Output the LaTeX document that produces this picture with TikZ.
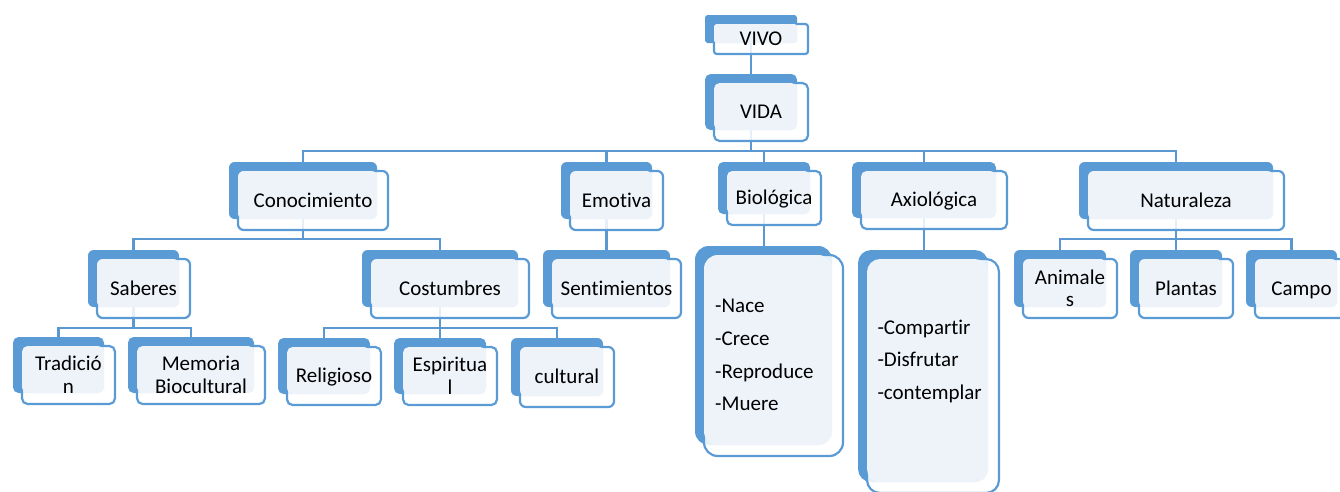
\documentclass[tikz,border=0pt]{standalone}
\usepackage{fontspec}
\setmainfont{Carlito}[Ligatures=NoCommon]
\definecolor{accblue}{HTML}{5B9BD5}
\definecolor{lightbg}{HTML}{EEF3FA}
\definecolor{linkblue}{HTML}{5B97D1}
\pgfdeclarelayer{background}
\pgfsetlayers{background,main}
\tikzset{
 backbox/.style={fill=accblue, draw=none, inner sep=0pt, outer sep=0pt},
 frontbox/.style={fill=white, fill opacity=0.85, draw=accblue, draw opacity=1, line width=2.2pt},
 lightbox/.style={fill=lightbg},
 lbl/.style={inner sep=0pt, anchor=base, align=center, font=\fontsize{21}{22.3}\selectfont, text=black},
 lst/.style={inner sep=0pt, anchor=base west, align=left, font=\fontsize{21}{32.7}\selectfont, text=black},
 link/.style={draw=linkblue, line width=2.3pt},
}
\newcommand{\hshape}[5]{%
  \pgfmathsetmacro\hrr{0.1*min(#4-#2,#5-#3)}%
  \node[backbox, rounded corners=\hrr pt, minimum width={(#4-#2)*1pt}, minimum height={(#5-#3)*1pt}] (#1) at ({(#2+#4)/2},{-(#3+#5)/2}) {};%
  \path[frontbox, rounded corners=\hrr pt] ({#2+9},{-(#3+9)}) rectangle ({#4+11},{-(#5+11)});%
  \path[lightbox, rounded corners=\hrr pt] ({#2+9},{-(#3+9)}) rectangle (#4,-#5);%
}
% optional #1: extra downward shift of the (last-line) baseline
\newcommand{\hnode}[7][0]{%
  \hshape{#2}{#3}{#4}{#5}{#6}%
  \node[lbl] (#2-t) at ({(#3+#5)/2+10},{-((#4+#6)/2+16.5+#1)}) {#7};%
}
\begin{document}
\begin{tikzpicture}[x=1pt,y=1pt]
\useasboundingbox (0,0) rectangle (1340,-491);
\clip (0,0) rectangle (1340,-491);
\hnode{vivo}{705}{15}{797}{43}{VIVO}
\hnode{vida}{705}{74}{797}{130}{VIDA}
\hnode{conoc}{229}{162}{377}{219}{Conocimiento}
\hnode{emot}{561}{162}{652}{219}{Emotiva}
\hnode[-0.5]{bio}{718}{162}{810}{214}{Biológica}
\hnode{axio}{852}{162}{996}{218}{Axiológica}
\hnode{natu}{1079}{162}{1273}{219}{Naturaleza}
\hnode{saberes}{88}{250}{179}{307}{Saberes}
\hnode{costum}{362}{250}{518}{307}{Costumbres}
\hnode{senti}{543}{250}{670}{307}{Sentimientos}
\hshape{nace}{695}{246}{832}{445}
\node[lst] (nace-t) at (715,-410.8) {-Nace\\-Crece\\-Reproduce\\-Muere};
\hshape{compart}{858}{250}{988}{482}
\node[lst] (compart-t) at (877.3,-399.4) {-Compartir\\-Disfrutar\\-contemplar};
\hnode[11.5]{animales}{1014}{250}{1106}{307}{Animale\\s}
\hnode{plantas}{1130}{250}{1222}{307}{Plantas}
\hnode{campo}{1246}{250}{1337}{307}{Campo}
\hnode[11.5]{trad}{13}{337}{104}{393}{Tradició\\n}
\hnode[11.5]{memoria}{128}{337}{254}{393}{Memoria\\Biocultural}
\hnode{relig}{278}{338}{370}{394}{Religioso}
\hnode[11.5]{espir}{394}{338}{486}{394}{Espiritua\\l}
\hnode{cultural}{511}{338}{603}{396}{cultural}
\begin{pgfonlayer}{background}
\coordinate (b1) at (0,-151);
\coordinate (b2) at (0,-239);
\coordinate (b3) at (0,-328);
\draw[link] (vivo.south) -- (vida.north);
\draw[link] (vida.south) -- (vida.south |- b1);
\draw[link] (conoc.north) -- (conoc.north |- b1) -- (natu.north |- b1) -- (natu.north);
\draw[link] (emot.north) -- (emot.north |- b1);
\draw[link] (bio.north) -- (bio.north |- b1);
\draw[link] (axio.north) -- (axio.north |- b1);
\draw[link] (conoc.south) -- (conoc.south |- b2);
\draw[link] (saberes.north) -- (saberes.north |- b2) -- (costum.north |- b2) -- (costum.north);
\draw[link] (emot.south) -- (senti.north);
\draw[link] (bio.south) -- (bio.south |- nace.north);
\draw[link] (axio.south) -- (axio.south |- compart.north);
\draw[link] (natu.south) -- (natu.south |- b2);
\draw[link] (animales.north) -- (animales.north |- b2) -- (campo.north |- b2) -- (campo.north);
\draw[link] (plantas.north) -- (plantas.north |- b2);
\draw[link] (saberes.south) -- (saberes.south |- b3);
\draw[link] (trad.north) -- (trad.north |- b3) -- (memoria.north |- b3) -- (memoria.north);
\draw[link] (costum.south) -- (costum.south |- b3);
\draw[link] (relig.north) -- (relig.north |- b3) -- (cultural.north |- b3) -- (cultural.north);
\draw[link] (espir.north) -- (espir.north |- b3);
\end{pgfonlayer}
\end{tikzpicture}
\end{document}
